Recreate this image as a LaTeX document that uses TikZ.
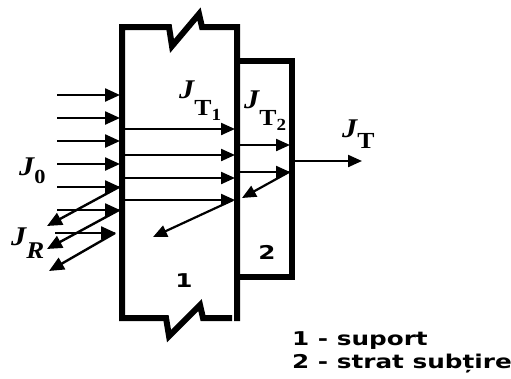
\documentclass[tikz,border=0pt]{standalone}
\usepackage{fontspec}
\setmainfont{Liberation Serif}
\newfontfamily\legfont{DejaVu Sans}
\usetikzlibrary{arrows.meta}
\newcommand{\Jl}{{\fontsize{27}{27}\selectfont\bfseries\itshape J}}
\newcommand{\Tsub}[1]{{\fontsize{23}{23}\selectfont\bfseries T\raisebox{-5pt}{\fontsize{17}{17}\selectfont #1}}}
\begin{document}
\begin{tikzpicture}[x=1pt,y=-1pt,
  wall/.style={line width=6pt,line join=miter},
  ray/.style={line width=2.4pt,-{Triangle[length=15pt,width=13pt]}},
  iray/.style={line width=2.2pt,-{Triangle[length=14pt,width=12pt]}},
  lab/.style={inner sep=0pt,anchor=base west},
  num/.style={inner sep=0pt,font=\legfont\bfseries\fontsize{19}{19}\selectfont},
]
\useasboundingbox (0,0) rectangle (511,378);
\fill[white] (0,0) rectangle (511,378);
% block 1 (support) with break marks
\draw[wall] (232,318) -- (203,318) -- (200,305) -- (169,336) -- (166,318) -- (122,318)
  -- (122,27) -- (169,27) -- (172,46) -- (199,14) -- (202,27) -- (237,27) -- (237,321);
% block 2 (thin layer)
\draw[wall] (237,61) -- (292,61) -- (292,277) -- (237,277);
% incoming rays
\foreach \y in {95,118,141,164,187,210} \draw[ray] (57,\y) -- (120,\y);
\draw[ray] (55,233) -- (116,233);
% reflected rays
\draw[ray] (119,187) -- (47,226);
\draw[ray] (119,210) -- (47,249);
\draw[ray] (115,233) -- (49,271);
% transmitted in block 1
\foreach \y in {129,155,178,200} \draw[iray] (125,\y) -- (235,\y);
\draw[iray] (233,200) -- (153,237);
% block 2
\foreach \y in {145,172} \draw[iray] (240,\y) -- (290,\y);
\draw[iray] (289,172) -- (242,198);
% output
\draw[iray] (295,161) -- (362,161);
% labels
\node[lab] (jt1) at (179,98) {\scalebox{1.12}[1]{\Jl\raisebox{-17pt}{\Tsub{1}}}};
\node[lab] (jt2) at (244,108) {\scalebox{1.12}[1]{\Jl\raisebox{-17pt}{\Tsub{2}}}};
\node[lab] (jt) at (342,137) {\scalebox{1.12}[1]{\Jl\raisebox{-11pt}{\fontsize{23}{23}\selectfont\bfseries T}}};
\node[lab] (j0) at (19,175) {\scalebox{1.12}[1]{\Jl\raisebox{-8pt}{\fontsize{20}{20}\selectfont\bfseries 0}}};
\node[lab] (jr) at (11,245) {\scalebox{1.12}[1]{\Jl\raisebox{-13pt}{\fontsize{24}{24}\selectfont\bfseries\itshape R}}};
\node[num] (n1) at (184,281) {\scalebox{1.3}[1]{1}};
\node[num] (n2) at (267,252) {\scalebox{1.3}[1]{2}};
\node[num,anchor=base west] (leg1) at (292,345) {\scalebox{1.3}[1]{1 - suport}};
\node[num,anchor=base west] (leg2) at (292,368) {\scalebox{1.3}[1]{2 - strat subțire}};
\end{tikzpicture}
\end{document}
